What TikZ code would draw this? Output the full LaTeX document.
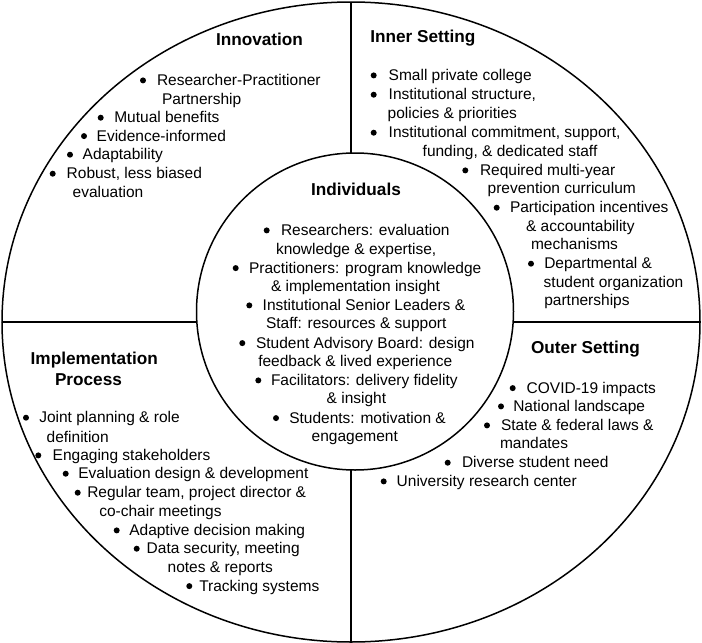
\documentclass[tikz,border=0pt]{standalone}
\usepackage{fontspec}
\setmainfont{Liberation Sans}
\usetikzlibrary{shapes.geometric}
\tikzset{
 itm/.style={font=\fontsize{15.5}{18.7}\selectfont, anchor=base west, inner sep=0pt, outer sep=0pt},
 hd/.style={font=\fontsize{17.2}{20}\selectfont\bfseries, anchor=base west, inner sep=0pt, outer sep=0pt},
 dot/.style={circle, fill=black, inner sep=0pt, minimum size=6pt},
 ring/.style={draw=black, line width=1.5pt}
}
\newcommand\bitem[5]{\node[dot] (#1b) at (#2,#4-5.1) {}; \node[itm] (#1) at (#3,#4) {#5};}
\newcommand\citem[4]{\node[itm] (#1) at (#2,#3) {#4};}
\begin{document}
\begin{tikzpicture}[x=1pt,y=-1pt]
\fill[white] (0,0) rectangle (702,643);
\useasboundingbox (0,0) rectangle (702,643);
\node[ring, ellipse, minimum width=698pt, minimum height=640pt, inner sep=0pt, outer sep=0pt] (outer) at (351,322) {};
\node[ring, circle, minimum size=317pt, inner sep=0pt, outer sep=0pt] (inner) at (355,311.5) {};
\draw[ring] (outer.north) -- (outer.north |- inner.north);
\draw[ring] (outer.south) -- (outer.south |- inner.south);
\draw[ring] (outer.west) -- (inner.west |- outer.west);
\draw[ring] (outer.east) -- (inner.east |- outer.east);
% Innovation
\node[hd] (hInn) at (216,45) {Innovation};
\bitem{inA}{143}{157}{85.5}{Researcher-Practitioner}
\citem{inA2}{162}{104.2}{Partnership}
\bitem{inB}{100.7}{114.3}{122.8}{Mutual benefits}
\bitem{inC}{84}{96.7}{141.2}{Evidence-informed}
\bitem{inD}{70}{82.7}{159.8}{Adaptability}
\bitem{inE}{52.7}{66.7}{178.8}{Robust, less biased}
\citem{inE2}{72.7}{197.8}{evaluation}
% Inner setting
\node[hd] (hIS) at (370.3,42.8) {Inner Setting};
\bitem{isA}{373.7}{388.7}{80.5}{Small private college}
\bitem{isB}{373.7}{388.7}{99.8}{Institutional structure,}
\citem{isB2}{387.7}{118.8}{policies \& priorities}
\bitem{isC}{373.7}{388.7}{137.8}{Institutional commitment, support,}
\citem{isC2}{422.7}{156.2}{funding, \& dedicated staff}
\bitem{isD}{465.3}{480}{175.5}{Required multi-year}
\citem{isD2}{487.7}{193.8}{prevention curriculum}
\bitem{isE}{496.7}{510}{212.8}{Participation incentives}
\citem{isE2}{526}{231.5}{\& accountability}
\citem{isE3}{531}{249.8}{mechanisms}
\bitem{isF}{531}{544.3}{268.8}{Departmental \&}
\citem{isF2}{543.7}{287.2}{student organization}
\citem{isF3}{544.3}{305.5}{partnerships}
% Individuals
\node[hd] (hInd) at (311,195.5) {Individuals};
\bitem{idA}{266.7}{281}{235.5}{Researchers: evaluation}
\citem{idA2}{276}{254.5}{knowledge \& expertise,}
\bitem{idB}{235.7}{249}{273.2}{Practitioners: program knowledge}
\citem{idB2}{271}{291.5}{\& implementation insight}
\bitem{idC}{249.3}{262.7}{310.5}{Institutional Senior Leaders \&}
\citem{idC2}{266}{328.8}{Staff: resources \& support}
\bitem{idD}{242.3}{256}{348.2}{Student Advisory Board: design}
\citem{idD2}{258.3}{366.5}{feedback \& lived experience}
\bitem{idE}{258.3}{271}{385.5}{Facilitators: delivery fidelity}
\citem{idE2}{326.7}{403.8}{\& insight}
\bitem{idF}{276}{289.3}{423.2}{Students: motivation \&}
\citem{idF2}{311.7}{441.5}{engagement}
% Implementation process
\node[hd] (hIP) at (30.7,364.3) {Implementation};
\node[hd] (hIP2) at (55,385) {Process};
\bitem{ipA}{26}{39.3}{422.8}{Joint planning \& role}
\citem{ipA2}{46.7}{442.2}{definition}
\bitem{ipB}{38.3}{52.7}{460.5}{Engaging stakeholders}
\bitem{ipC}{65.7}{78.3}{478.8}{Evaluation design \& development}
\bitem{ipD}{77.7}{87.3}{497.8}{Regular team, project director \&}
\citem{ipD2}{99.3}{516.5}{co-chair meetings}
\bitem{ipE}{116.7}{129.3}{535.5}{Adaptive decision making}
\bitem{ipF}{136.7}{146.7}{553.8}{Data security, meeting}
\citem{ipF2}{167.7}{572.8}{notes \& reports}
\bitem{ipG}{189.3}{199.3}{591.2}{Tracking systems}
% Outer setting
\node[hd] (hOS) at (531,353.7) {Outer Setting};
\bitem{osA}{512.7}{526.7}{393.2}{COVID-19 impacts}
\bitem{osB}{501}{513.3}{411.5}{National landscape}
\bitem{osC}{487}{501}{430.5}{State \& federal laws \&}
\citem{osC2}{500}{448.8}{mandates}
\bitem{osD}{447.7}{462}{467.8}{Diverse student need}
\bitem{osE}{383.7}{396.7}{486.5}{University research center}
\end{tikzpicture}
\end{document}
